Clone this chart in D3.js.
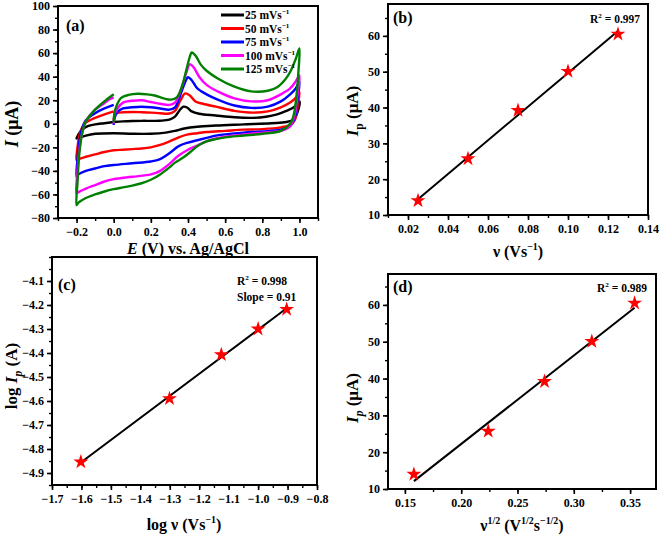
<!DOCTYPE html>
<html><head><meta charset="utf-8">
<script src="https://cdn.jsdelivr.net/npm/d3@7"></script>
<style>body{margin:0;background:#fff}svg{display:block}</style>
</head><body>
<svg id="c" width="661" height="539"></svg>
<script>
// ---------- data ----------
const scanRates = [25, 50, 75, 100, 125];            // mV/s
const seriesNames = ["25 mVs", "50 mVs", "75 mVs", "100 mVs", "125 mVs"];
const seriesColors = ["#000000", "#ff0000", "#0000ff", "#ff00ff", "#008000"];
const nu = [0.025, 0.050, 0.075, 0.100, 0.125];      // V/s
const ipValues = [14.0, 25.7, 39.2, 50.1, 60.5];     // µA
const logNu = [-1.602, -1.301, -1.125, -1.000, -0.903];
const logIp = [-4.854, -4.590, -4.407, -4.300, -4.218];
const sqrtNu = [0.158, 0.224, 0.274, 0.316, 0.354];

const cv25 = [[0.0,1.5],[0.05,2],[0.1,2.3],[0.15,2.5],[0.2,2.5],[0.25,2.6],[0.3,3.5],[0.33,6],[0.355,11.5],[0.375,14.5],[0.395,13.8],[0.42,10.5],[0.46,8.5],[0.55,7],[0.65,5.5],[0.75,5],[0.82,6],[0.88,8],[0.93,11],[0.97,14],[1.0,19],
  [0.99,10],[0.97,4],[0.93,1.5],[0.85,0.5],[0.7,-0.5],[0.55,-1.5],[0.45,-2.5],[0.38,-4],[0.33,-6],[0.28,-7.5],[0.2,-8.5],[0.1,-8.5],[0.0,-8],[-0.1,-8.5],[-0.15,-10],[-0.19,-12],[-0.2,-12.5],
  [-0.19,-9],[-0.17,-5],[-0.14,-2],[-0.1,-0.5],[-0.05,0.5],[0.0,1.5]];
const cv50 = [[0.0,3],[0.005,7.5],[0.02,9.2],[0.05,9.8],[0.1,10],[0.15,9.8],[0.2,9.5],[0.25,9],[0.3,8.7],[0.33,11],[0.36,20],[0.385,25.8],[0.41,24],[0.44,19],[0.48,17],[0.55,14.5],[0.65,11],[0.75,9.5],[0.83,10.5],[0.9,14],[0.95,18],[0.98,22],[1.0,27],
  [0.99,15],[0.975,3],[0.95,-1],[0.9,-3],[0.8,-4.5],[0.7,-5],[0.6,-6],[0.5,-7],[0.45,-8],[0.4,-9],[0.35,-11.5],[0.3,-15],[0.25,-18],[0.2,-20],[0.15,-21],[0.1,-21.5],[0.05,-22],[0.0,-22.5],[-0.05,-24],[-0.1,-26],[-0.15,-28],[-0.19,-30],[-0.2,-31],
  [-0.195,-20],[-0.185,-10],[-0.17,-3],[-0.15,1],[-0.1,5],[-0.05,8],[0.0,10.5]];
const cv75 = [[0.0,-1],[0.005,5],[0.02,10],[0.05,13],[0.1,14],[0.15,14.5],[0.2,14],[0.25,13],[0.3,12],[0.33,14],[0.36,25],[0.385,35.5],[0.40,39.5],[0.42,37],[0.45,30],[0.5,25],[0.56,20.5],[0.65,15.5],[0.74,13.5],[0.83,14.5],[0.9,19],[0.95,25],[0.98,30],[1.0,36],
  [0.99,20],[0.975,5],[0.95,-2],[0.9,-5],[0.8,-6.5],[0.7,-7.5],[0.6,-9],[0.55,-10],[0.5,-12],[0.45,-14],[0.4,-16],[0.35,-19],[0.3,-25],[0.25,-30],[0.2,-32],[0.1,-33.5],[0.0,-35],[-0.05,-36],[-0.1,-38],[-0.15,-40],[-0.19,-43],[-0.2,-45],
  [-0.195,-30],[-0.185,-15],[-0.17,-4],[-0.15,3],[-0.1,9],[-0.05,13],[0.0,16]];
const cv100 = [[0.0,0],[0.005,8],[0.02,13],[0.05,18],[0.1,19.5],[0.15,20],[0.2,18.5],[0.25,17],[0.3,16],[0.33,18],[0.36,28],[0.39,43],[0.41,50.5],[0.43,48],[0.46,40],[0.5,33],[0.56,27.5],[0.65,21.5],[0.74,19],[0.83,20],[0.9,25],[0.95,30],[0.98,36],[1.0,41],
  [0.99,25],[0.975,8],[0.95,-2],[0.9,-6],[0.8,-7.5],[0.7,-9],[0.6,-11],[0.55,-12.5],[0.5,-15],[0.45,-18.5],[0.4,-22],[0.35,-27],[0.3,-34],[0.25,-40],[0.2,-43],[0.1,-45],[0.0,-47],[-0.05,-49],[-0.1,-52],[-0.15,-55],[-0.19,-58],[-0.2,-59],
  [-0.195,-40],[-0.185,-22],[-0.17,-8],[-0.15,2],[-0.1,12],[-0.05,17.5],[-0.02,21],[0.0,22.5]];
const cv125 = [[0.0,1],[0.005,10],[0.02,17],[0.04,22],[0.08,24.5],[0.13,25.5],[0.18,25],[0.22,24],[0.27,21.5],[0.31,20.5],[0.34,22.5],[0.37,33],[0.39,45],[0.41,57],[0.42,60.5],[0.44,58],[0.47,50],[0.5,45],[0.56,38.5],[0.65,31.5],[0.74,27.5],[0.83,28],[0.88,31],[0.92,37],[0.95,44],[0.98,55],[1.0,64],
  [0.995,45],[0.985,25],[0.97,8],[0.95,0],[0.9,-6],[0.8,-8.5],[0.7,-10],[0.6,-11.5],[0.55,-13],[0.5,-15],[0.45,-19],[0.42,-23],[0.38,-28],[0.33,-33],[0.3,-37],[0.25,-43],[0.2,-47.5],[0.15,-50.5],[0.1,-52.5],[0.05,-54],[0.0,-55.5],[-0.05,-57.5],[-0.1,-60],[-0.15,-63],[-0.19,-67],[-0.2,-69],
  [-0.195,-50],[-0.185,-25],[-0.17,-8],[-0.15,2],[-0.1,12],[-0.05,19],[0.0,25]];
const cvCurves = [cv25, cv50, cv75, cv100, cv125];

const aXTicks = [-0.2, 0.0, 0.2, 0.4, 0.6, 0.8, 1.0];
const aYTicks = [-80, -60, -40, -20, 0, 20, 40, 60, 80, 100];
const bXTicks = [0.02, 0.04, 0.06, 0.08, 0.10, 0.12, 0.14];
const bYTicks = [10, 20, 30, 40, 50, 60];
const cXTicks = [-1.7, -1.6, -1.5, -1.4, -1.3, -1.2, -1.1, -1.0, -0.9, -0.8];
const cYTicks = [-4.9, -4.8, -4.7, -4.6, -4.5, -4.4, -4.3, -4.2, -4.1];
const dXTicks = [0.15, 0.20, 0.25, 0.30, 0.35];
const dYTicks = [10, 20, 30, 40, 50, 60];

// ---------- helpers ----------
const svg = d3.select("#c");
const FONT = "'Liberation Serif','Times New Roman',serif";

function rich(sel, parts, size) {
  let off = 0;
  parts.forEach(p => {
    const ts = sel.append("tspan").text(p.t);
    let target = 0;
    if (p.i) ts.attr("font-style", "italic");
    if (p.sup) { ts.attr("font-size", size * 0.62); target = -size * 0.42; }
    if (p.sub) { ts.attr("font-size", size * 0.68); target = size * 0.3; }
    if (target !== off) { ts.attr("dy", target - off); off = target; }
  });
}

function linfit(xs, ys) {
  const mx = d3.mean(xs), my = d3.mean(ys);
  let sxy = 0, sxx = 0;
  xs.forEach((x, i) => { sxy += (x - mx) * (ys[i] - my); sxx += (x - mx) * (x - mx); });
  const m = sxy / sxx;
  return x => my + m * (x - mx);
}

function panel(o) {
  const g = svg.append("g");
  const x = d3.scaleLinear().domain(o.xd).range([o.l, o.r]);
  const y = d3.scaleLinear().domain(o.yd).range([o.b, o.t]);
  g.append("g").attr("transform", `translate(0,${o.b})`)
    .call(d3.axisBottom(x).tickValues(o.xMinor).tickSize(3).tickFormat(""))
    .call(s => s.select(".domain").remove())
    .selectAll("line").attr("stroke-width", 1.4);
  g.append("g").attr("transform", `translate(${o.l},0)`)
    .call(d3.axisLeft(y).tickValues(o.yMinor).tickSize(3).tickFormat(""))
    .call(s => s.select(".domain").remove())
    .selectAll("line").attr("stroke-width", 1.4);
  const ax = g.append("g").attr("transform", `translate(0,${o.b})`)
    .call(d3.axisBottom(x).tickValues(o.xt).tickSize(5).tickPadding(4).tickFormat(d3.format(o.xf)));
  ax.select(".domain").remove();
  ax.selectAll("line").attr("stroke-width", 1.6);
  ax.selectAll("text").attr("font-family", FONT).attr("font-weight", "bold").attr("font-size", 12).attr("fill", "#000");
  const ay = g.append("g").attr("transform", `translate(${o.l},0)`)
    .call(d3.axisLeft(y).tickValues(o.yt).tickSize(5).tickPadding(3).tickFormat(d3.format(o.yf)));
  ay.select(".domain").remove();
  ay.selectAll("line").attr("stroke-width", 1.6);
  ay.selectAll("text").attr("font-family", FONT).attr("font-weight", "bold").attr("font-size", 12).attr("fill", "#000");
  return {g, x, y};
}

function frame(o) {
  svg.append("rect").attr("x", o.l).attr("y", o.t).attr("width", o.r - o.l).attr("height", o.b - o.t)
    .attr("fill", "none").attr("stroke", "#000").attr("stroke-width", 2);
}

function txt(x, y, parts, size, anchor, rot) {
  const t = svg.append("text").attr("font-family", FONT).attr("font-weight", "bold")
    .attr("font-size", size).attr("text-anchor", anchor || "start").attr("fill", "#000");
  if (rot) t.attr("transform", `translate(${x},${y}) rotate(-90)`);
  else t.attr("x", x).attr("y", y);
  rich(t, parts, size);
  return t;
}

const range = (a, b, s) => d3.range(Math.round((b - a) / s) + 1).map(i => +(a + i * s).toFixed(4));
const star = d3.symbol().type(d3.symbolStar).size(70);

// ---------- panel (a) ----------
const A = {l: 58, r: 318, t: 6, b: 218, xd: [-0.3, 1.1], yd: [-80, 100],
  xt: aXTicks, yt: aYTicks, xMinor: range(-0.3, 1.1, 0.1), yMinor: range(-80, 100, 10), xf: ".1f", yf: "d"};
const pa = panel(A);
const lineA = d3.line().x(d => pa.x(d[0])).y(d => pa.y(d[1])).curve(d3.curveCatmullRom.alpha(0.5));
cvCurves.forEach((c, i) => {
  svg.append("path").datum(c).attr("d", lineA).attr("fill", "none")
    .attr("stroke", seriesColors[i]).attr("stroke-width", 2.4).attr("stroke-linejoin", "round");
});
frame(A);
seriesNames.forEach((n, i) => {
  const yy = 15 + i * 13.5;
  svg.append("line").attr("x1", 221).attr("x2", 244).attr("y1", yy).attr("y2", yy)
    .attr("stroke", seriesColors[i]).attr("stroke-width", 3);
  txt(245, yy + 4, [{t: n}, {t: "−1", sup: true}], 11.5, "start");
});
txt(66, 31, [{t: "(a)"}], 16, "start");
txt(188, 254, [{t: "E", i: true}, {t: " (V) vs. Ag/AgCl"}], 16, "middle");
txt(18, 124, [{t: "I", i: true}, {t: " (μA)"}], 18, "middle", true);

// ---------- panel (b) ----------
const B = {l: 388, r: 648, t: 4, b: 215, xd: [0.01, 0.14], yd: [10, 68.9],
  xt: bXTicks, yt: bYTicks, xMinor: range(0.01, 0.14, 0.01), yMinor: range(10, 65, 5), xf: ".2f", yf: "d"};
const pb = panel(B);
const fb = linfit(nu, ipValues);
svg.append("line").attr("x1", pb.x(nu[0])).attr("y1", pb.y(fb(nu[0])))
  .attr("x2", pb.x(nu[4])).attr("y2", pb.y(fb(nu[4]))).attr("stroke", "#000").attr("stroke-width", 2);
nu.forEach((v, i) => svg.append("path").attr("d", star)
  .attr("transform", `translate(${pb.x(v)},${pb.y(ipValues[i])})`).attr("fill", "#ff0000"));
frame(B);
txt(393, 23, [{t: "(b)"}], 16, "start");
txt(590, 23, [{t: "R"}, {t: "2", sup: true}, {t: " = 0.997"}], 11.5, "start");
txt(518, 257, [{t: "ν (Vs"}, {t: "−1", sup: true}, {t: ")"}], 16, "middle");
txt(358, 111, [{t: "I", i: true}, {t: "p", sub: true}, {t: " (μA)"}], 17, "middle", true);

// ---------- panel (c) ----------
const C = {l: 52, r: 317, t: 257, b: 485, xd: [-1.7, -0.8], yd: [-4.95, -4.0],
  xt: cXTicks, yt: cYTicks, xMinor: range(-1.7, -0.8, 0.05), yMinor: range(-4.95, -4.0, 0.05), xf: ".1f", yf: ".1f"};
const pc = panel(C);
const fc = linfit(logNu, logIp);
svg.append("line").attr("x1", pc.x(logNu[0])).attr("y1", pc.y(fc(logNu[0])))
  .attr("x2", pc.x(logNu[4])).attr("y2", pc.y(fc(logNu[4]))).attr("stroke", "#000").attr("stroke-width", 2);
logNu.forEach((v, i) => svg.append("path").attr("d", star)
  .attr("transform", `translate(${pc.x(v)},${pc.y(logIp[i])})`).attr("fill", "#ff0000"));
frame(C);
txt(58, 290, [{t: "(c)"}], 16, "start");
txt(237, 285, [{t: "R"}, {t: "2", sup: true}, {t: " = 0.998"}], 11.5, "start");
txt(237, 301, [{t: "Slope = 0.91"}], 11.5, "start");
txt(184, 530, [{t: "log ν (Vs"}, {t: "−1", sup: true}, {t: ")"}], 16, "middle");
txt(17, 376, [{t: "log "}, {t: "I", i: true}, {t: "p", sub: true, i: true}, {t: " (A)"}], 17, "middle", true);

// ---------- panel (d) ----------
const D = {l: 388, r: 656, t: 274, b: 489, xd: [0.135, 0.373], yd: [10, 68.4],
  xt: dXTicks, yt: dYTicks, xMinor: range(0.15, 0.35, 0.025), yMinor: range(10, 65, 5), xf: ".2f", yf: "d"};
const pd = panel(D);
const fd = linfit(sqrtNu, ipValues);
svg.append("line").attr("x1", pd.x(sqrtNu[0])).attr("y1", pd.y(fd(sqrtNu[0])))
  .attr("x2", pd.x(sqrtNu[4])).attr("y2", pd.y(fd(sqrtNu[4]))).attr("stroke", "#000").attr("stroke-width", 2);
sqrtNu.forEach((v, i) => svg.append("path").attr("d", star)
  .attr("transform", `translate(${pd.x(v)},${pd.y(ipValues[i])})`).attr("fill", "#ff0000"));
frame(D);
txt(393, 292, [{t: "(d)"}], 16, "start");
txt(597, 292, [{t: "R"}, {t: "2", sup: true}, {t: " = 0.989"}], 11.5, "start");
txt(522, 531, [{t: "ν"}, {t: "1/2", sup: true}, {t: " (V"}, {t: "1/2", sup: true}, {t: "s"}, {t: "−1/2", sup: true}, {t: ")"}], 16, "middle");
txt(358, 398, [{t: "I", i: true}, {t: "p", sub: true, i: true}, {t: " (μA)"}], 17, "middle", true);
</script>
</body></html>
